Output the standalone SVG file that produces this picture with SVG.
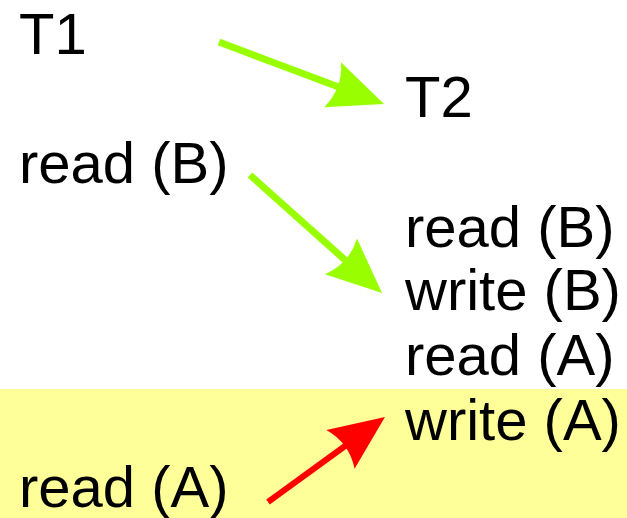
<svg xmlns="http://www.w3.org/2000/svg" width="627" height="518" viewBox="0 0 627 518">
<style>
text{font-family:"Liberation Sans",Arial,sans-serif;font-size:58px;fill:#000}
.g{stroke:#99FF00;stroke-width:7;fill:none}
.r{stroke:#FF0000;stroke-width:6;fill:none}
</style>
<defs>
<marker id="ag" markerUnits="userSpaceOnUse" viewBox="-58 -28 60 56" refX="-20" refY="0" markerWidth="60" markerHeight="56" orient="auto">
<path d="M0,0 L-55,-24 Q-44,0 -55,24 Z" fill="#99FF00"/>
</marker>
<marker id="ar" markerUnits="userSpaceOnUse" viewBox="-58 -28 60 56" refX="-20" refY="0" markerWidth="60" markerHeight="56" orient="auto">
<path d="M0,0 L-55,-24 Q-44,0 -55,24 Z" fill="#FF0000"/>
</marker>
</defs>
<rect x="0" y="389" width="627" height="129" fill="#FFFF99"/>
<g id="t1"><text x="19" y="54">T1</text></g>
<g id="t2"><text x="405" y="117">T2</text></g>
<g id="t1-readB"><text x="19" y="183">read (B)</text></g>
<g id="t2-readB"><text x="405" y="247">read (B)</text></g>
<g id="t2-writeB"><text x="405" y="310">write (B)</text></g>
<g id="t2-readA"><text x="405" y="375">read (A)</text></g>
<g id="t2-writeA"><text x="405" y="440">write (A)</text></g>
<g id="t1-readA"><text x="19" y="507">read (A)</text></g>
<g id="connectors">
<line class="g" x1="219" y1="42" x2="365.3" y2="97" marker-end="url(#ag)"/>
<line class="g" x1="250" y1="175" x2="367.1" y2="279.7" marker-end="url(#ag)"/>
<line class="r" x1="268" y1="502" x2="368.8" y2="428.8" marker-end="url(#ar)"/>
</g>
</svg>
